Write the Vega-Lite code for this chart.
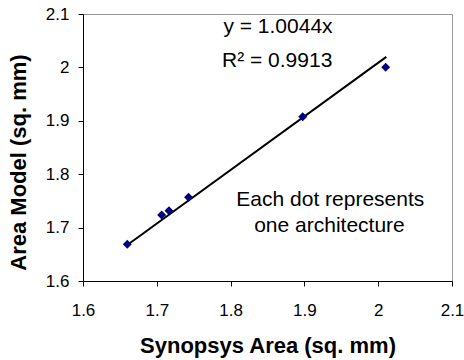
{
  "$schema": "https://vega.github.io/schema/vega-lite/v6.json",
  "width": 369,
  "height": 267,
  "autosize": "none",
  "padding": {"left": 83, "top": 14, "right": 12, "bottom": 79},
  "background": "white",
  "config": {
    "view": {"stroke": "#999999", "strokeWidth": 1},
    "font": "Liberation Sans"
  },
  "datasets": {
    "points": [
      {"synopsys": 1.660, "model": 1.669},
      {"synopsys": 1.7066, "model": 1.7236},
      {"synopsys": 1.7165, "model": 1.7317},
      {"synopsys": 1.743, "model": 1.7567},
      {"synopsys": 1.8977, "model": 1.9077},
      {"synopsys": 2.0101, "model": 2.0002}
    ],
    "trend": [
      {"synopsys": 1.660, "model": 1.6673},
      {"synopsys": 2.011, "model": 2.0198}
    ],
    "labels": [
      {"synopsys": 1.8642, "model": 2.0644, "label": "y = 1.0044x"},
      {"synopsys": 1.8631, "model": 2.0007, "label": "R² = 0.9913"},
      {"synopsys": 1.9351, "model": 1.7404, "label": "Each dot represents"},
      {"synopsys": 1.934, "model": 1.6912, "label": "one architecture"}
    ]
  },
  "encoding": {
    "x": {
      "field": "synopsys",
      "type": "quantitative",
      "scale": {"domain": [1.6, 2.1], "zero": false, "nice": false},
      "axis": {
        "title": "Synopsys Area (sq. mm)",
        "values": [1.6, 1.7, 1.8, 1.9, 2.0, 2.1],
        "format": "~g",
        "grid": false,
        "domainColor": "black",
        "tickColor": "black",
        "tickSize": 5,
        "labelPadding": 16,
        "labelFontSize": 17,
        "labelColor": "black",
        "labelFlush": false,
        "titleFontSize": 22,
        "titleFontWeight": "bold",
        "titleColor": "black",
        "titleBaseline": "alphabetic",
        "titleY": 71
      }
    },
    "y": {
      "field": "model",
      "type": "quantitative",
      "scale": {"domain": [1.6, 2.1], "zero": false, "nice": false},
      "axis": {
        "title": "Area Model (sq. mm)",
        "values": [1.6, 1.7, 1.8, 1.9, 2.0, 2.1],
        "format": "~g",
        "grid": false,
        "domainColor": "black",
        "tickColor": "black",
        "tickSize": 5,
        "labelPadding": 9,
        "labelFontSize": 17,
        "labelColor": "black",
        "labelFlush": false,
        "titleFontSize": 22,
        "titleFontWeight": "bold",
        "titleColor": "black",
        "titleBaseline": "alphabetic",
        "titleX": -58,
        "titleY": 148,
        "titleAnchor": "middle"
      }
    }
  },
  "layer": [
    {
      "data": {"name": "trend"},
      "mark": {"type": "line", "color": "black", "strokeWidth": 2}
    },
    {
      "data": {"name": "points"},
      "mark": {"type": "point", "shape": "diamond", "filled": true, "color": "#000080", "size": 80, "opacity": 1}
    },
    {
      "data": {"name": "labels"},
      "mark": {"type": "text", "fontSize": 21, "color": "black", "align": "center", "baseline": "alphabetic"},
      "encoding": {"text": {"field": "label"}}
    }
  ]
}
